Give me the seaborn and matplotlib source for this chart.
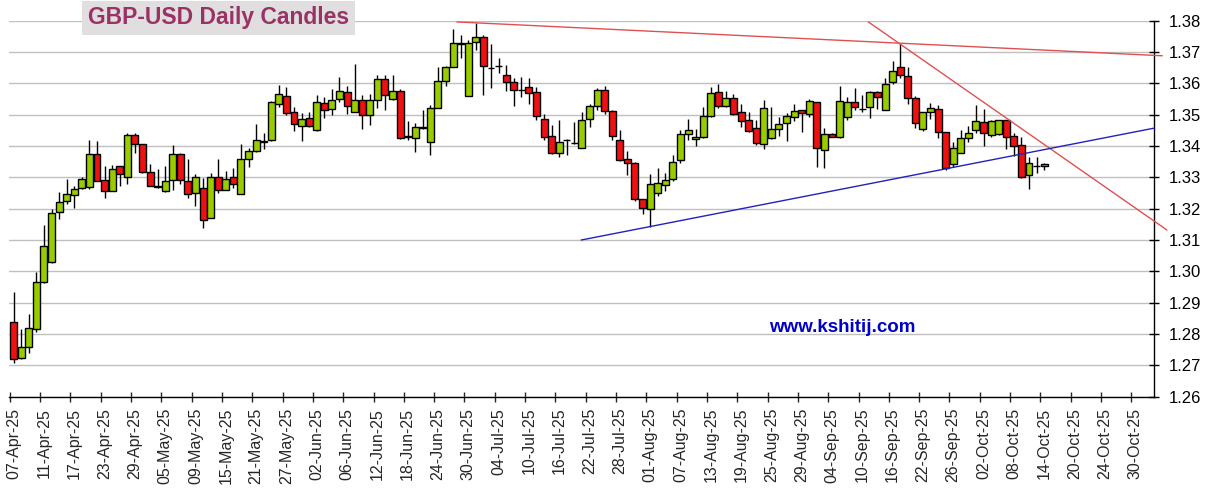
import numpy as np
import pandas as pd
import matplotlib.pyplot as plt
import seaborn as sns

# business days shown on the axis (07-Apr-25 .. 30-Oct-25)
dates = pd.bdate_range('2025-04-07', '2025-10-30')

# daily candles (07-Apr-25 .. 14-Oct-25)
opens = [1.2837, 1.2722, 1.2760, 1.2815, 1.2967, 1.3029, 1.3188, 1.3224, 1.3244, 1.3265,
         1.3268, 1.3374, 1.3293, 1.3258, 1.3335, 1.3302, 1.3434, 1.3405, 1.3316, 1.3268,
         1.3255, 1.3291, 1.3376, 1.3289, 1.3251, 1.3267, 1.3171, 1.3301, 1.3261, 1.3301,
         1.3248, 1.3360, 1.3385, 1.3413, 1.3419, 1.3534, 1.3559, 1.3509, 1.3463, 1.3491,
         1.3451, 1.3536, 1.3519, 1.3551, 1.3573, 1.3509, 1.3548, 1.3500, 1.3546, 1.3615,
         1.3549, 1.3575, 1.3430, 1.3424, 1.3461, 1.3413, 1.3522, 1.3608, 1.3653, 1.3730,
         1.3559, 1.3731, 1.3747, 1.3649, 1.3654, 1.3628, 1.3604, 1.3578, 1.3588, 1.3572,
         1.3487, 1.3432, 1.3379, 1.3418, 1.3410, 1.3395, 1.3487, 1.3527, 1.3578, 1.3511,
         1.3418, 1.3360, 1.3345, 1.3232, 1.3198, 1.3251, 1.3276, 1.3295, 1.3354, 1.3437,
         1.3421, 1.3429, 1.3495, 1.3571, 1.3527, 1.3554, 1.3507, 1.3484, 1.3457, 1.3407,
         1.3426, 1.3455, 1.3475, 1.3493, 1.3514, 1.3502, 1.3541, 1.3387, 1.3438, 1.3430,
         1.3493, 1.3539, 1.3517, 1.3525, 1.3571, 1.3514, 1.3605, 1.3652, 1.3624, 1.3553,
         1.3454, 1.3508, 1.3519, 1.3445, 1.3342, 1.3379, 1.3424, 1.3450, 1.3477, 1.3434,
         1.3437, 1.3482, 1.3432, 1.3403, 1.3307, 1.3336, 1.3336]
highs = [1.2933, 1.2815, 1.2863, 1.2997, 1.3147, 1.3198, 1.3252, 1.3294, 1.3272, 1.3300,
         1.3419, 1.3415, 1.3337, 1.3339, 1.3335, 1.3440, 1.3440, 1.3405, 1.3342, 1.3326,
         1.3337, 1.3403, 1.3378, 1.3357, 1.3312, 1.3299, 1.3315, 1.3360, 1.3319, 1.3331,
         1.3405, 1.3395, 1.3469, 1.3442, 1.3545, 1.3594, 1.3589, 1.3525, 1.3506, 1.3509,
         1.3563, 1.3557, 1.3581, 1.3621, 1.3592, 1.3663, 1.3564, 1.3565, 1.3626, 1.3626,
         1.3626, 1.3583, 1.3479, 1.3474, 1.3514, 1.3532, 1.3651, 1.3655, 1.3772, 1.3754,
         1.3738, 1.3791, 1.3754, 1.3724, 1.3682, 1.3657, 1.3617, 1.3620, 1.3618, 1.3588,
         1.3501, 1.3468, 1.3484, 1.3421, 1.3477, 1.3509, 1.3535, 1.3585, 1.3590, 1.3514,
         1.3452, 1.3384, 1.3350, 1.3232, 1.3311, 1.3329, 1.3313, 1.3370, 1.3450, 1.3487,
         1.3454, 1.3523, 1.3589, 1.3598, 1.3576, 1.3565, 1.3534, 1.3509, 1.3482, 1.3546,
         1.3525, 1.3493, 1.3504, 1.3534, 1.3514, 1.3551, 1.3541, 1.3457, 1.3440, 1.3592,
         1.3555, 1.3586, 1.3562, 1.3576, 1.3576, 1.3618, 1.3671, 1.3724, 1.3652, 1.3560,
         1.3509, 1.3537, 1.3530, 1.3445, 1.3413, 1.3452, 1.3463, 1.3530, 1.3519, 1.3484,
         1.3484, 1.3484, 1.3440, 1.3429, 1.3366, 1.3366, 1.3346]
lows = [1.2706, 1.2719, 1.2740, 1.2807, 1.2964, 1.3026, 1.3166, 1.3214, 1.3201, 1.3262,
        1.3262, 1.3287, 1.3235, 1.3255, 1.3274, 1.3279, 1.3377, 1.3314, 1.3272, 1.3267,
        1.3253, 1.3259, 1.3278, 1.3234, 1.3209, 1.3139, 1.3169, 1.3250, 1.3259, 1.3267,
        1.3246, 1.3333, 1.3380, 1.3392, 1.3415, 1.3525, 1.3499, 1.3449, 1.3417, 1.3461,
        1.3449, 1.3491, 1.3500, 1.3539, 1.3503, 1.3509, 1.3455, 1.3466, 1.3522, 1.3516,
        1.3546, 1.3421, 1.3420, 1.3381, 1.3455, 1.3370, 1.3522, 1.3591, 1.3653, 1.3682,
        1.3559, 1.3706, 1.3562, 1.3586, 1.3633, 1.3576, 1.3527, 1.3556, 1.3533, 1.3482,
        1.3420, 1.3375, 1.3365, 1.3370, 1.3405, 1.3395, 1.3461, 1.3514, 1.3503, 1.3418,
        1.3352, 1.3307, 1.3226, 1.3184, 1.3140, 1.3242, 1.3256, 1.3289, 1.3346, 1.3418,
        1.3399, 1.3427, 1.3493, 1.3522, 1.3525, 1.3498, 1.3461, 1.3445, 1.3404, 1.3391,
        1.3423, 1.3431, 1.3416, 1.3479, 1.3445, 1.3493, 1.3334, 1.3330, 1.3428, 1.3427,
        1.3483, 1.3515, 1.3510, 1.3491, 1.3518, 1.3514, 1.3597, 1.3618, 1.3533, 1.3459,
        1.3449, 1.3487, 1.3426, 1.3323, 1.3332, 1.3379, 1.3413, 1.3440, 1.3401, 1.3429,
        1.3434, 1.3392, 1.3368, 1.3299, 1.3263, 1.3315, 1.3325]
closes = [1.2719, 1.2760, 1.2818, 1.2965, 1.3080, 1.3185, 1.3222, 1.3246, 1.3262, 1.3294,
          1.3374, 1.3287, 1.3258, 1.3326, 1.3311, 1.3434, 1.3405, 1.3318, 1.3274, 1.3274,
          1.3289, 1.3376, 1.3291, 1.3248, 1.3301, 1.3165, 1.3301, 1.3259, 1.3296, 1.3280,
          1.3360, 1.3383, 1.3419, 1.3415, 1.3541, 1.3565, 1.3504, 1.3469, 1.3486, 1.3463,
          1.3541, 1.3515, 1.3546, 1.3575, 1.3527, 1.3548, 1.3500, 1.3548, 1.3615, 1.3562,
          1.3575, 1.3427, 1.3433, 1.3461, 1.3456, 1.3522, 1.3608, 1.3653, 1.3730, 1.3724,
          1.3730, 1.3747, 1.3655, 1.3650, 1.3655, 1.3604, 1.3580, 1.3579, 1.3570, 1.3496,
          1.3429, 1.3379, 1.3413, 1.3419, 1.3411, 1.3484, 1.3527, 1.3580, 1.3511, 1.3432,
          1.3354, 1.3347, 1.3232, 1.3203, 1.3279, 1.3282, 1.3292, 1.3350, 1.3439, 1.3450,
          1.3429, 1.3495, 1.3568, 1.3527, 1.3554, 1.3501, 1.3480, 1.3448, 1.3410, 1.3522,
          1.3455, 1.3471, 1.3496, 1.3511, 1.3504, 1.3544, 1.3393, 1.3438, 1.3430, 1.3544,
          1.3539, 1.3526, 1.3518, 1.3571, 1.3555, 1.3597, 1.3640, 1.3627, 1.3553, 1.3473,
          1.3509, 1.3522, 1.3445, 1.3329, 1.3395, 1.3424, 1.3440, 1.3480, 1.3440, 1.3479,
          1.3482, 1.3429, 1.3399, 1.3300, 1.3347, 1.3337, 1.3344]

# trend lines (x = business-day position, y = price)
upper_line_pos = [58.5, 151.6]
upper_line_val = [1.3796, 1.3688]
down_line_pos = [112.8, 152.2]
down_line_val = [1.3796, 1.3132]
support_line_pos = [74.9, 150.5]
support_line_val = [1.3100, 1.3457]

sns.set_style("white")
plt.rcParams['font.family'] = ['Liberation Sans', 'DejaVu Sans']

df = pd.DataFrame({'open': opens, 'high': highs, 'low': lows, 'close': closes})
df['pos'] = np.arange(len(df))
up = df['close'] >= df['open']

fig = plt.figure(figsize=(12.19, 4.97), dpi=100)
ax = fig.add_axes([0.0074, 0.2018, 0.9393, 0.7566])

# wicks then bodies
ax.vlines(df['pos'], df['low'], df['high'], color='black', lw=1, zorder=2)
ax.bar(df['pos'], (df['close'] - df['open']).abs(),
       bottom=df[['open', 'close']].min(axis=1), width=0.92,
       color=np.where(up, '#99cc00', '#ee1111'), edgecolor='black',
       linewidth=1, zorder=3)

# trend lines
sns.lineplot(x=upper_line_pos, y=upper_line_val, color='#e05050', lw=1,
             ax=ax, clip_on=False, zorder=4)
sns.lineplot(x=down_line_pos, y=down_line_val, color='#e05050', lw=1,
             ax=ax, clip_on=False, zorder=4)
sns.lineplot(x=support_line_pos, y=support_line_val, color='#2222bb', lw=1,
             ax=ax, clip_on=False, zorder=4)

ax.set_xlim(-0.61, 150.5)
ax.set_ylim(1.26, 1.38)

# y axis on the right
ax.yaxis.tick_right()
ax.set_yticks(np.arange(1.26, 1.3801, 0.01))
ax.set_yticklabels([f'{v:.2f}' for v in np.arange(1.26, 1.3801, 0.01)])
ax.tick_params(axis='y', direction='inout', length=7, width=1, pad=7,
               labelsize=12, colors='black', right=True, left=False)
ax.grid(axis='y', color='#c0c0c0', lw=1)
ax.set_axisbelow(True)

# x axis: labels under candles, tick marks between days
pos = np.arange(len(dates))
ax.set_xticks(pos[::4])
ax.set_xticklabels(dates[::4].strftime('%d-%b-%y'), rotation=90)
ax.set_xticks(pos[::4] - 0.5, minor=True)
ax.tick_params(axis='x', which='major', length=0, pad=8, labelsize=11.5)
ax.tick_params(axis='x', which='minor', direction='inout', length=7,
               width=1, bottom=True)

for side in ['left', 'top']:
    ax.spines[side].set_visible(False)
for side in ['right', 'bottom']:
    ax.spines[side].set_color('black')
    ax.spines[side].set_linewidth(1)

ax.set_xlabel('')
ax.set_ylabel('')

fig.text(0.1792, 0.964, 'GBP-USD Daily Candles', ha='center', va='center',
         fontsize=16.5, fontweight='bold', color='#993366',
         bbox=dict(boxstyle='square,pad=0.25', fc='#e0dede', ec='none'))
fig.text(0.6907, 0.342, 'www.kshitij.com', ha='center', va='center',
         fontsize=13.5, fontweight='bold', color='#0000cc')

fig.savefig('out.png', dpi=100)
